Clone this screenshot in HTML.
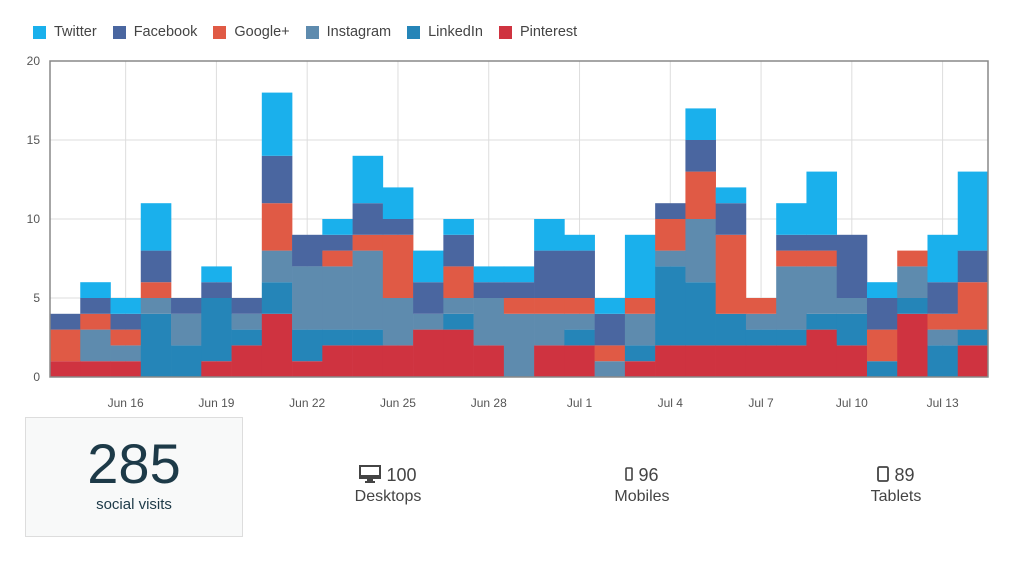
<!DOCTYPE html>
<html><head><meta charset="utf-8"><style>
body{margin:0;width:1024px;height:563px;background:#fff;font-family:"Liberation Sans",sans-serif;overflow:hidden;position:relative}
.leg{position:absolute;top:24px;left:33px;display:flex;font-size:14.5px;color:#444}
.leg div{display:flex;align-items:center;margin-right:16px}
.leg span{width:13px;height:13px;margin-right:8px;display:inline-block}
.box{position:absolute;left:25px;top:417px;width:216px;height:118px;background:#f8f9f9;border:1px solid #ddd;text-align:center;color:#1d3a48}
.big{font-size:56px;margin-top:16px;line-height:60px;font-weight:300}
.sub{font-size:15px;margin-top:2px}
.stat{position:absolute;top:465px;width:140px;text-align:center;color:#444;font-size:18px}
.stat .l{font-size:16px;margin-top:2px}
</style></head><body>
<div class="leg">
<div><span style="background:#1ab0ec"></span>Twitter</div>
<div><span style="background:#4a66a0"></span>Facebook</div>
<div><span style="background:#e05a45"></span>Google+</div>
<div><span style="background:#5e8bae"></span>Instagram</div>
<div><span style="background:#2585b8"></span>LinkedIn</div>
<div><span style="background:#cf3340"></span>Pinterest</div>
</div>
<svg id="chart" width="1024" height="410" style="position:absolute;left:0;top:0"></svg>
<div class="box"><div class="big">285</div><div class="sub">social visits</div></div>
<div class="stat" style="left:318px"><div><svg width="22" height="18" viewBox="0 0 22 18" style="vertical-align:-2px"><rect x="1" y="1" width="20" height="12" fill="none" stroke="#444" stroke-width="2"/><rect x="1" y="10" width="20" height="3" fill="#444"/><rect x="8" y="13" width="6" height="3" fill="#444"/><rect x="6" y="16" width="10" height="2" fill="#444"/></svg> 100</div><div class="l">Desktops</div></div>
<div class="stat" style="left:572px"><div><svg width="8" height="14" viewBox="0 0 8 14" style="vertical-align:0"><rect x="1" y="1" width="6" height="12" rx="1" fill="none" stroke="#444" stroke-width="1.6"/></svg> 96</div><div class="l">Mobiles</div></div>
<div class="stat" style="left:826px"><div><svg width="12" height="16" viewBox="0 0 12 16" style="vertical-align:-1px"><rect x="1" y="1" width="10" height="14" rx="1.5" fill="none" stroke="#444" stroke-width="1.8"/></svg> 89</div><div class="l">Tablets</div></div>
<script>
const days=["Jun 14","Jun 15","Jun 16","Jun 17","Jun 18","Jun 19","Jun 20","Jun 21","Jun 22","Jun 23","Jun 24","Jun 25","Jun 26","Jun 27","Jun 28","Jun 29","Jun 30","Jul 1","Jul 2","Jul 3","Jul 4","Jul 5","Jul 6","Jul 7","Jul 8","Jul 9","Jul 10","Jul 11","Jul 12","Jul 13","Jul 14"];
const pinterest=[1,1,1,0,0,1,2,4,1,2,2,2,3,3,2,0,2,2,0,1,2,2,2,2,2,3,2,0,4,0,2];
const linkedin=[0,0,0,4,2,4,1,2,2,1,1,0,0,1,0,0,0,1,0,1,5,4,2,1,1,1,2,1,1,2,1];
const instagram=[0,2,1,1,2,0,1,2,4,4,5,3,1,1,3,4,2,1,1,2,1,4,0,1,4,3,1,0,2,1,0];
const googleplus=[2,1,1,1,0,0,0,3,0,1,1,4,0,2,0,1,1,1,1,1,2,3,5,1,1,1,0,2,1,1,3];
const facebook=[1,1,1,2,1,1,1,3,2,1,2,1,2,2,1,1,3,3,2,0,1,2,2,0,1,1,4,2,0,2,2];
const twitter=[0,1,1,3,0,1,0,4,0,1,3,2,2,1,1,1,2,1,1,4,0,2,1,0,2,4,0,1,0,3,5];
const yTicks=[0,5,10,15,20];
const xTickIdx=[2,5,8,11,14,17,20,23,26,29];
const series=[["pinterest",pinterest,"#cf3340"],["linkedin",linkedin,"#2585b8"],["instagram",instagram,"#5e8bae"],["googleplus",googleplus,"#e05a45"],["facebook",facebook,"#4a66a0"],["twitter",twitter,"#1ab0ec"]];
const L=50,R=988,T=61,B=377,yMax=20;
const bw=(R-L)/days.length;
const y=v=>B-(B-T)*v/yMax;
const xc=i=>L+bw*(i+0.5);
const svg=document.getElementById('chart');const NS="http://www.w3.org/2000/svg";
function mk(t,a){const e=document.createElementNS(NS,t);for(const k in a)e.setAttribute(k,a[k]);svg.appendChild(e);return e;}
yTicks.forEach(v=>{
 if(v>0&&v<yMax){const g=mk('line',{x1:L,x2:R,y1:y(v),y2:y(v),stroke:'#ddd','stroke-width':1});
 
 }
 const t=mk('text',{x:40,y:y(v)+4,'text-anchor':'end','font-size':12,fill:'#555','font-family':'Liberation Sans, sans-serif'});t.textContent=v;
 
 
});
xTickIdx.forEach(i=>{
 const g=mk('line',{x1:xc(i),x2:xc(i),y1:T,y2:B,stroke:'#ddd','stroke-width':1});
 
 
 const t=mk('text',{x:xc(i),y:407,'text-anchor':'middle','font-size':12,fill:'#555','font-family':'Liberation Sans, sans-serif'});t.textContent=days[i];
 
 
});
days.forEach((d,i)=>{
 let acc=0;
 series.forEach(([n,arr,c])=>{
  const v=arr[i];if(!v)return;
  const r=mk('rect',{x:L+bw*i,y:y(acc+v),width:bw+0.3,height:y(acc)-y(acc+v),fill:c});
  
  
  acc+=v;
 });
});
const fr=mk('rect',{x:L,y:T,width:R-L,height:B-T,fill:'none',stroke:'#888','stroke-width':1.5});


</script>
</body></html>
